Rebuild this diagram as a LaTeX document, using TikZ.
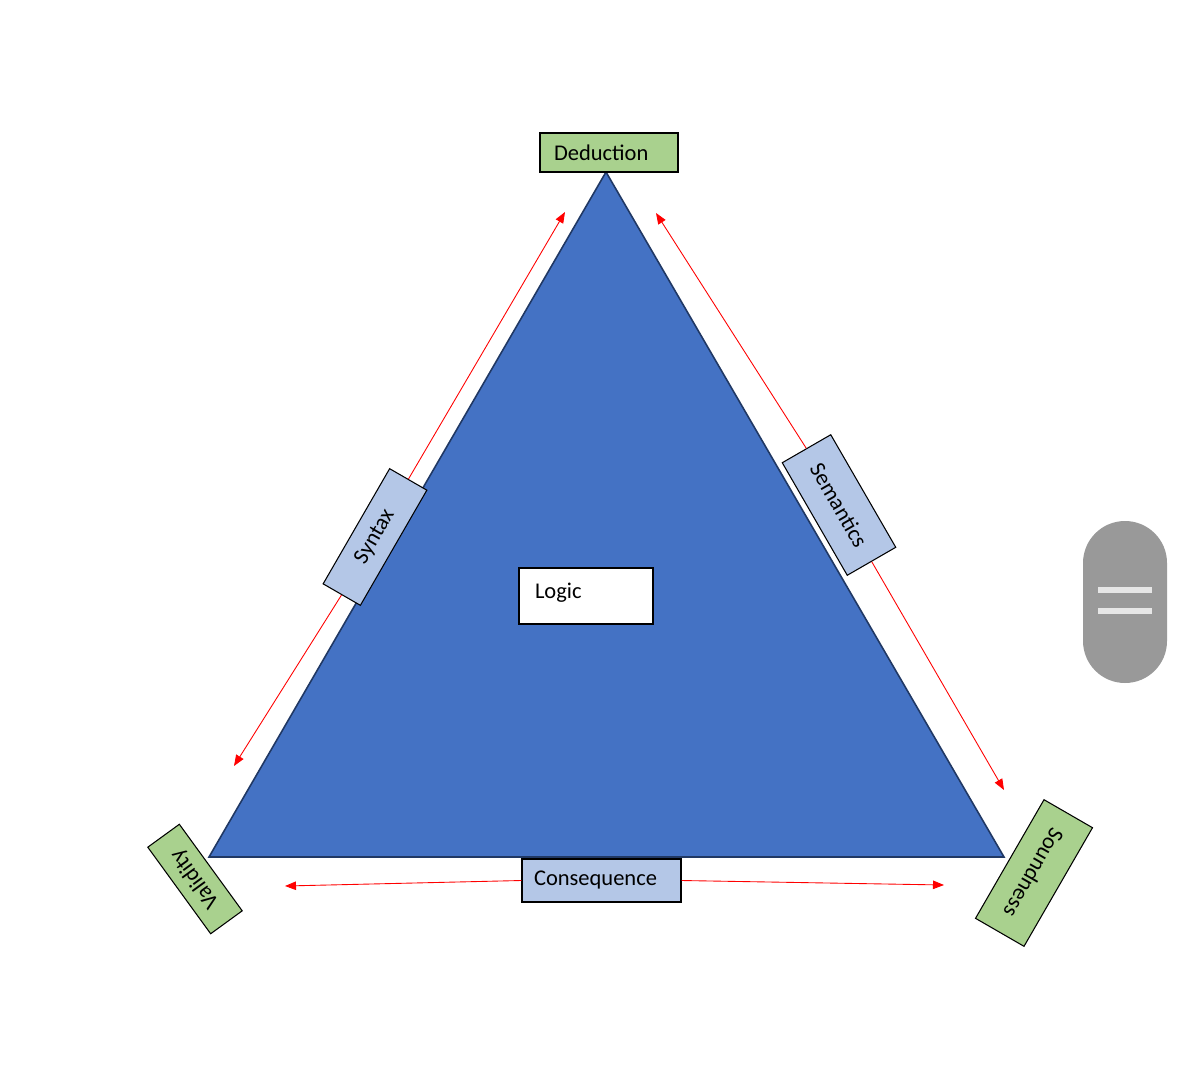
\documentclass[tikz,border=0pt]{standalone}
\usepackage{fontspec}
\setmainfont{Carlito}
\usetikzlibrary{arrows.meta}

\definecolor{leafgreen}{HTML}{A9D18E}
\definecolor{paleblue}{HTML}{B4C7E7}
\definecolor{faceblue}{HTML}{4472C4}
\definecolor{edgenavy}{HTML}{203864}
\definecolor{pillgray}{HTML}{999999}
\definecolor{pillbar}{HTML}{E6E6E6}

\tikzset{
	box/.style = {draw=black, line width=0.6pt, inner sep=0pt, font=\fontsize{12.8}{14}\selectfont},
	corner/.style = {box, fill=leafgreen},
	side/.style = {box, fill=paleblue},
	link/.style = {red, line width=0.5pt, -{Triangle[length=2.2mm,width=1.7mm]}},
}

\begin{document}
\begin{tikzpicture}[x=0.02cm, y=-0.02cm]
	\useasboundingbox (0,0) rectangle (1179,1075);
	% triangle
	\coordinate (apex) at (606,172);
	\coordinate (left) at (209,857);
	\coordinate (right) at (1004,857);
	\filldraw[fill=faceblue, draw=edgenavy, line width=0.9pt] (apex) -- (right) -- (left) -- cycle;
	\node[box, fill=white, minimum width=2.68cm, minimum height=1.12cm, text width=2.04cm, text depth=0.2cm, align=left] (logic) at (586,596) {Logic};
	% corners
	\node[corner, minimum width=2.76cm, minimum height=0.78cm, text width=2.2cm, align=left] (ded) at (609,152.5) {Deduction};
	\node[corner, minimum width=2.14cm, minimum height=0.78cm, rotate=126] (val) at (195,879) {Validity};
	\node[corner, minimum width=2.74cm, minimum height=1.12cm, rotate=-120] (snd) at (1034,873) {Soundness};
	% sides
	\node[side, minimum width=2.66cm, minimum height=0.86cm, rotate=60] (syn) at (375,537) {Syntax};
	\node[side, minimum width=2.6cm, minimum height=1.12cm, rotate=-60] (sem) at (839,505) {Semantics};
	\node[side, minimum width=3.18cm, minimum height=0.86cm, text width=2.7cm, align=left] (cons) at (601.5,880.5) {Consequence};
	% arrow ends
	\coordinate (synA) at (565,212);
	\coordinate (synB) at (234,766);
	\coordinate (semA) at (656,213);
	\coordinate (semB) at (1004,790);
	\coordinate (consA) at (285,886);
	\coordinate (consB) at (944,885);
	\draw[link] (syn.east) -- (synA);
	\draw[link] (syn.west) -- (synB);
	\draw[link] (sem.west) -- (semA);
	\draw[link] (sem.east) -- (semB);
	\draw[link] (cons.west) -- (consA);
	\draw[link] (cons.east) -- (consB);
	% side handle
	\fill[pillgray, rounded corners=0.84cm] (1083,521) rectangle (1167,683);
	\fill[pillbar] (1098,587) rectangle (1152,593);
	\fill[pillbar] (1098,608) rectangle (1152,614);
\end{tikzpicture}
\end{document}
